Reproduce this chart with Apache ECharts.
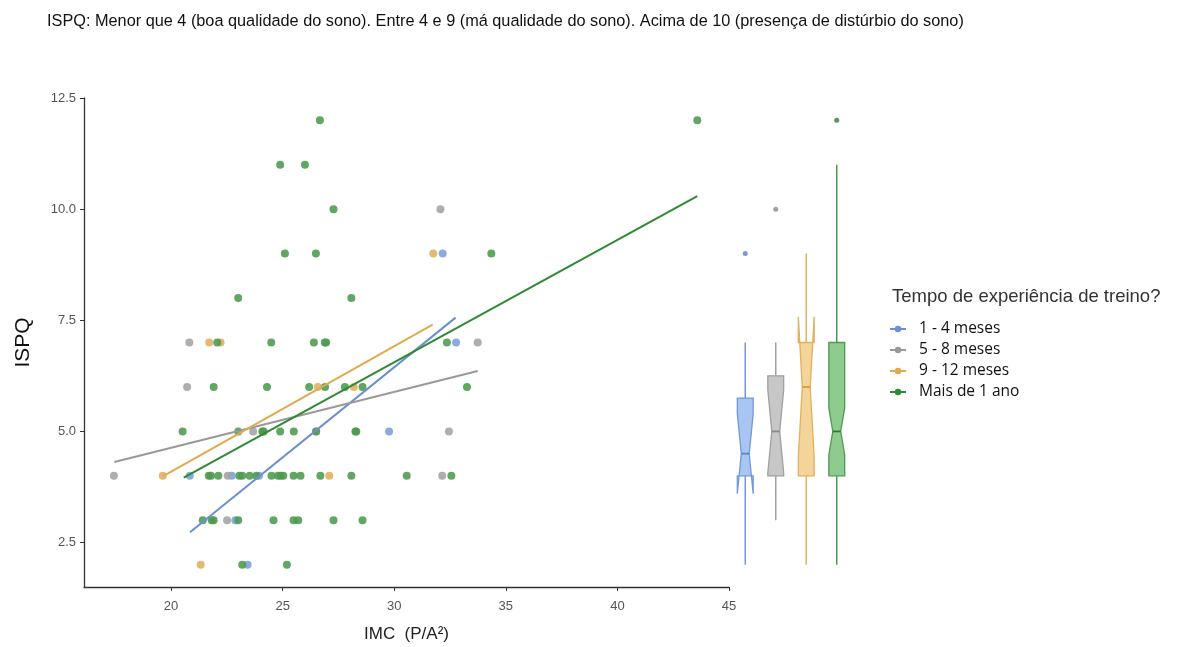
<!DOCTYPE html>
<html>
<head>
<meta charset="utf-8">
<script src="https://cdn.jsdelivr.net/npm/echarts@6/dist/echarts.min.js"></script>
<style>
    html, body { margin: 0; padding: 0; background: #fff; }
    #chart { width: 1180px; height: 647px; }
</style>
</head>
<body>
<div id="chart"></div>
<script>
// grupos (tempo de experiência de treino)
const groups = ['1 - 4 meses', '5 - 8 meses', '9 - 12 meses', 'Mais de 1 ano']
const colors = ['#7a9fd8', '#a3a3a3', '#e0b160', '#4c9a4e']
const lineColors = ['#6b90d0', '#999999', '#deab50', '#2f8a34']

// pontos: IMC (x) e ISPQ (y)
const imc1 = [32.17, 32.77, 29.77, 20.84, 22.72, 23.94, 22.88, 23.43]
const ispq1 = [9, 7, 5, 4, 4, 4, 3, 2]
const imc2 = [32.07, 20.82, 33.74, 20.72, 23.68, 26.5, 32.45, 17.44, 22.54, 32.15, 22.51]
const ispq2 = [10, 7, 7, 6, 5, 5, 5, 4, 4, 4, 3]
const imc3 = [31.75, 21.71, 22.22, 26.58, 28.19, 19.63, 27.09, 21.33]
const ispq3 = [9, 7, 7, 6, 6, 4, 4, 2]
const imc4 = [26.67, 43.58, 24.89, 26.0, 27.28, 25.1, 26.49, 34.35, 23.01, 28.08,
    22.07, 24.49, 26.4, 26.89, 26.95, 32.36,
    21.91, 24.3, 26.19, 26.9, 27.79, 28.58, 33.26,
    20.52, 23.01, 24.09, 24.15, 24.89, 25.5, 26.5, 28.26, 28.3,
    21.69, 21.79, 22.12, 23.06, 23.19, 23.52, 23.82, 24.5, 24.79, 24.91, 25.03, 25.49, 25.8, 26.69, 28.08, 30.56, 32.56,
    21.42, 21.82, 21.91, 23.01, 24.59, 25.49, 25.7, 27.28, 28.58,
    23.19, 25.19]
const ispq4 = [12, 12, 11, 11, 10, 9, 9, 9, 8, 8,
    7, 7, 7, 7, 7, 7,
    6, 6, 6, 6, 6, 6, 6,
    5, 5, 5, 5, 5, 5, 5, 5, 5,
    4, 4, 4, 4, 4, 4, 4, 4, 4, 4, 4, 4, 4, 4, 4, 4, 4,
    3, 3, 3, 3, 3, 3, 3, 3, 3,
    2, 2]

// retas de regressão (extremos)
const fitX0 = [20.85, 17.46, 19.63, 20.57]
const fitY0 = [2.73, 4.31, 3.99, 3.96]
const fitX1 = [32.75, 33.74, 31.72, 43.58]
const fitY1 = [7.56, 6.36, 7.40, 10.29]

// boxplots com entalhe
const boxLow = [2, 3, 2, 2]
const boxQ1 = [4, 4, 4, 4]
const boxMedian = [4.5, 5, 6, 5]
const boxQ3 = [5.75, 6.25, 7, 7]
const boxHigh = [7, 7, 9, 11]
const notchLow = [3.6, 4.07, 4.42, 4.47]
const notchHigh = [5.4, 5.93, 7.58, 5.53]
const outlierGroup = [0, 1, 3]
const outlierValue = [9, 10, 12]

const xTicks = [20, 25, 30, 35, 40, 45]
const yTicks = [2.5, 5.0, 7.5, 10.0, 12.5]

const boxFill = ['#a9c6f2', '#c7c7c7', '#f3d49b', '#8fca8f']
const boxStroke = ['#7399d6', '#a0a0a0', '#e2b05a', '#4e9c50']
const boxMid = ['#5b82c6', '#8a8a8a', '#d69c3c', '#2e7b33']

const myChart = echarts.init(document.getElementById('chart'))

const pts = [[imc1, ispq1], [imc2, ispq2], [imc3, ispq3], [imc4, ispq4]]
let series = []
groups.forEach((g, i) => {
    series.push({
        name: g,
        type: 'line',
        xAxisIndex: 0,
        yAxisIndex: 0,
        data: [[fitX0[i], fitY0[i]], [fitX1[i], fitY1[i]]],
        showSymbol: false,
        symbol: 'circle',
        symbolSize: 6,
        color: lineColors[i],
        lineStyle: { width: 2, color: lineColors[i] },
        z: 4,
        silent: true
    })
})
groups.forEach((g, i) => {
    series.push({
        name: g,
        type: 'scatter',
        xAxisIndex: 0,
        yAxisIndex: 0,
        data: pts[i][0].map((x, k) => [x, pts[i][1][k]]),
        symbolSize: 8,
        itemStyle: { color: colors[i], opacity: 0.88 },
        z: 2
    })
})

series.push({
    type: 'custom',
    xAxisIndex: 1,
    yAxisIndex: 1,
    data: groups.map((g, i) => [i, boxLow[i], boxQ1[i], boxMedian[i], boxQ3[i], boxHigh[i], notchLow[i], notchHigh[i]]),
    renderItem: function (params, api) {
        const i = params.dataIndex
        const idx = api.value(0)
        const cx = api.coord([idx, 0])[0]
        const y = v => api.coord([idx, api.value(v)])[1]
        const hw = api.size([1, 0])[0] * 0.26
        const nw = hw / 2
        const poly = [
            [cx - hw, y(2)], [cx - hw, y(6)], [cx - nw, y(3)], [cx - hw, y(7)], [cx - hw, y(4)],
            [cx + hw, y(4)], [cx + hw, y(7)], [cx + nw, y(3)], [cx + hw, y(6)], [cx + hw, y(2)]
        ]
        return {
            type: 'group',
            children: [
                { type: 'line', shape: { x1: cx, y1: y(4), x2: cx, y2: y(5) }, style: { stroke: boxStroke[i], lineWidth: 1.5 } },
                { type: 'line', shape: { x1: cx, y1: y(2), x2: cx, y2: y(1) }, style: { stroke: boxStroke[i], lineWidth: 1.5 } },
                { type: 'polygon', shape: { points: poly }, style: { fill: boxFill[i], stroke: boxStroke[i], lineWidth: 1.3 } },
                { type: 'line', shape: { x1: cx - nw, y1: y(3), x2: cx + nw, y2: y(3) }, style: { stroke: boxMid[i], lineWidth: 1.8 } }
            ]
        }
    },
    z: 3
})
series.push({
    type: 'scatter',
    xAxisIndex: 1,
    yAxisIndex: 1,
    data: outlierGroup.map((g, k) => ({ value: [g, outlierValue[k]], itemStyle: { color: boxMid[g] } })),
    symbolSize: 5,
    z: 4
})

const option = {
    animation: false,
    backgroundColor: '#fff',
    textStyle: { fontFamily: 'Liberation Sans' },
    title: {
        text: 'ISPQ: Menor que 4 (boa qualidade do sono). Entre 4 e 9 (má qualidade do sono). Acima de 10 (presença de distúrbio do sono)',
        left: 42,
        top: 9,
        textStyle: { fontSize: 16.3, fontWeight: 'normal', color: '#111', fontFamily: 'Liberation Sans' }
    },
    graphic: [
        {
            type: 'text', left: 892, top: 287,
            style: { text: 'Tempo de experiência de treino?', fontSize: 18.5, fill: '#333', fontFamily: 'Liberation Sans' }
        }
    ],
    legend: {
        orient: 'vertical',
        left: 884,
        top: 316,
        itemGap: 5,
        itemWidth: 16,
        itemHeight: 8,
        data: groups,
        textStyle: { fontSize: 15.5, color: '#111', fontFamily: 'Open Sans', padding: [0, 0, 0, 8] }
    },
    grid: [
        { left: 84, top: 98, width: 645, height: 489, outerBoundsMode: 'none', containLabel: false },
        { left: 730, top: 98, width: 122, height: 489, outerBoundsMode: 'none', containLabel: false }
    ],
    xAxis: [
        {
            type: 'value', gridIndex: 0, min: 16.1, max: 45,
            name: 'IMC  (P/A²)',
            nameLocation: 'middle',
            nameGap: 39,
            nameTextStyle: { fontSize: 17, color: '#222' },
            splitLine: { show: false },
            axisLine: { lineStyle: { color: '#333', width: 1.3 } },
            axisTick: { length: 4, lineStyle: { color: '#333' }, customValues: xTicks },
            axisLabel: {
                fontSize: 13, color: '#555', margin: 13,
                customValues: xTicks
            }
        },
        {
            type: 'category', gridIndex: 1, data: groups.map((g, i) => i),
            show: false
        }
    ],
    yAxis: [
        {
            type: 'value', gridIndex: 0, min: 1.5, max: 12.5,
            name: 'ISPQ',
            nameLocation: 'middle',
            nameGap: 50,
            nameRotate: 90,
            nameTextStyle: { fontSize: 21, color: '#111' },
            splitLine: { show: false },
            axisLine: { show: true, lineStyle: { color: '#333', width: 1.3 } },
            axisTick: { show: true, length: 4, lineStyle: { color: '#333' }, customValues: yTicks },
            axisLabel: {
                fontSize: 13, color: '#555', margin: 8,
                customValues: yTicks,
                formatter: v => v.toFixed(1)
            }
        },
        {
            type: 'value', gridIndex: 1, min: 1.5, max: 12.5, show: false
        }
    ],
    series: series
}
myChart.setOption(option)
window.addEventListener('resize', function () {
    myChart.resize()
})
</script>
</body>
</html>
